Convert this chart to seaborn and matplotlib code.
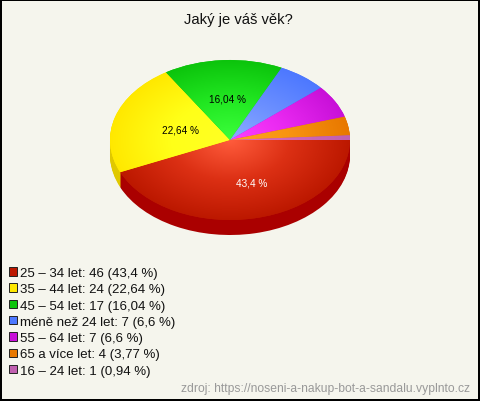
import numpy as np
import matplotlib
matplotlib.use('Agg')
import matplotlib.pyplot as plt
from matplotlib.patches import Patch
import seaborn as sns

# data
labels = ['25 – 34 let', '35 – 44 let', '45 – 54 let', 'méně než 24 let',
          '55 – 64 let', '65 a více let', '16 – 24 let']
counts = [46, 24, 17, 7, 7, 4, 1]
percents = ['43,4', '22,64', '16,04', '6,6', '6,6', '3,77', '0,94']

# slice colours
base_colors = ['#bc1800', '#ffe800', '#0cc40c', '#4d78ff', '#c810d8', '#e87800', '#c060b0']
mid_colors = ['#dc3014', '#ffff18', '#22e822', '#6c90ff', '#e828f0', '#f89410', '#d068b8']
light_colors = ['#ff5c3c', '#ffff24', '#3cff3c', '#8cacff', '#ff40ff', '#ffa424', '#e070c0']
side_colors = ['#aa0000', '#e0c800', '#0a9a0a', '#3a5ac0', '#9a0ca8', '#b85e00', '#965090']
bg_color = '#f5f5ed'

# which slices get a label: index, radius along the mid angle, text colour, offset
slice_labels = [(0, 0.54, 'white', (6, 0)), (1, 0.435, 'black', (0, 0)), (2, 0.525, 'black', (1, 0))]

W, H = 480, 402
CX, CY, RX, RY = 230, 141, 120, 80
DEPTH = 15

sns.set_theme(style='white')
plt.rcParams['font.family'] = ['Liberation Sans', 'DejaVu Sans']

fig = plt.figure(figsize=(W / 100, H / 100), dpi=100, facecolor=bg_color)
fig.patch.set_edgecolor('black')
fig.patch.set_linewidth(1.5)

ax = fig.add_axes([0, 0, 1, 1])

# side of the pie, stacked copies going down
for step in range(DEPTH, 0, -1):
    ax.pie(counts, colors=side_colors, startangle=0, counterclock=False,
           center=(0, -step / RY), radius=1, wedgeprops={'linewidth': 0})

wedges, _ = ax.pie(counts, colors=base_colors, startangle=0, counterclock=False,
                   center=(0, 0), radius=1, wedgeprops={'linewidth': 0})

# radial gradient in each slice
xx, yy = np.meshgrid(np.linspace(-1, 1, 400), np.linspace(-1, 1, 400))
dist = np.sqrt(xx ** 2 + yy ** 2)
for wedge, light, mid, base in zip(wedges, light_colors, mid_colors, base_colors):
    cmap = sns.blend_palette([light, mid, base], as_cmap=True)
    im = ax.imshow(dist, cmap=cmap, vmin=0, vmax=1, extent=(-1, 1, -1, 1),
                   origin='lower', aspect='auto', interpolation='bilinear', zorder=2)
    im.set_clip_path(wedge)

ax.set_aspect('auto')
ax.set_xlim(-CX / RX, (W - CX) / RX)
ax.set_ylim(-(H - CY) / RY, CY / RY)
ax.axis('off')

for idx, r, color, offset in slice_labels:
    mid = np.deg2rad((wedges[idx].theta1 + wedges[idx].theta2) / 2)
    ax.annotate(percents[idx] + ' %', (r * np.cos(mid), r * np.sin(mid)), xytext=offset,
                textcoords='offset points', ha='center', va='center',
                color=color, fontsize=7.2, zorder=3)

fig.text(238 / W, 1 - 20 / H, 'Jaký je váš věk?', ha='center', va='center',
         fontsize=10.6, color='#111111')

handles = [Patch(facecolor=c, edgecolor='#222222', linewidth=0.7) for c in base_colors]
legend_labels = [f'{l}: {n} ({p} %)' for l, n, p in zip(labels, counts, percents)]
fig.legend(handles, legend_labels, loc='upper left', bbox_to_anchor=(9 / W, 1 - 268 / H),
           frameon=False, fontsize=9.5, handlelength=0.62, handleheight=0.62,
           handletextpad=0.25, labelspacing=0.325, borderpad=0, borderaxespad=0,
           labelcolor='#111111')

fig.text(470 / W, 1 - 389 / H, 'zdroj: https://noseni-a-nakup-bot-a-sandalu.vyplnto.cz',
         ha='right', va='center', fontsize=8.75, color='#999999')

fig.savefig('out.png', dpi=100, facecolor=bg_color, edgecolor='black')
